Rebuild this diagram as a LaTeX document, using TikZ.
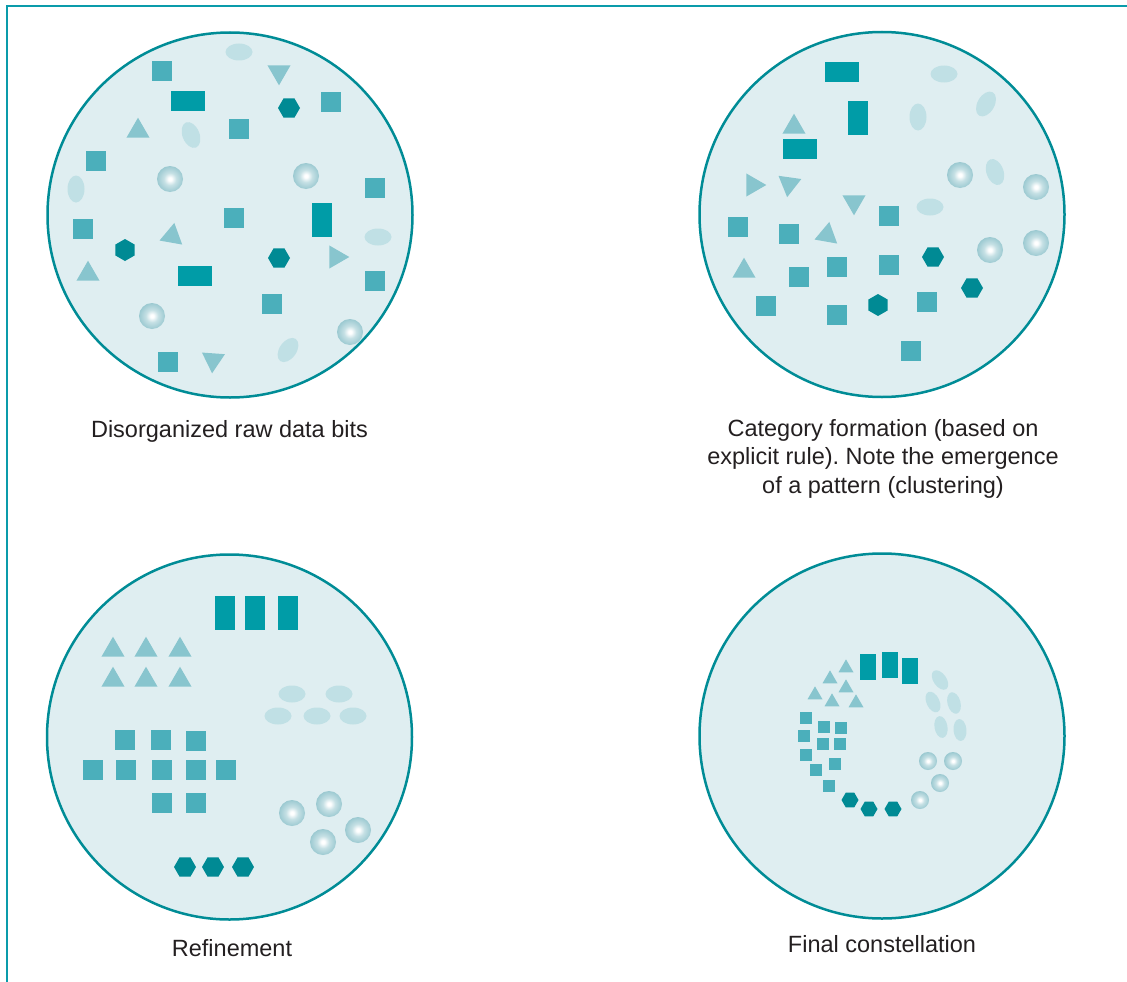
\documentclass[tikz,border=0pt]{standalone}
\usepackage{fontspec}
\setmainfont{Liberation Sans}
\usetikzlibrary{shapes.geometric}
\frenchspacing
\definecolor{ringc}{HTML}{008C96}
\definecolor{dishc}{HTML}{DFEEF1}
\definecolor{sqc}{HTML}{4BAFBB}
\definecolor{barc}{HTML}{009CA7}
\definecolor{hexc}{HTML}{008A94}
\definecolor{tric}{HTML}{88C5CE}
\definecolor{ovalc}{HTML}{C0E0E5}
\definecolor{beadc}{HTML}{7FBAC4}
\definecolor{framec}{HTML}{0A9BAA}
\definecolor{txtc}{HTML}{231F20}
\pgfdeclareradialshading{beadshade}{\pgfpoint{0bp}{0bp}}{color(0bp)=(white); color(3bp)=(white); color(12bp)=(beadc!45!white); color(26bp)=(beadc!80!white); color(36bp)=(beadc); color(50bp)=(beadc)}
\tikzset{
  dish/.style={circle, draw=ringc, fill=dishc, line width=2.5pt, minimum size=365pt, inner sep=0pt},
  datasq/.style={rectangle, fill=sqc, minimum size=20pt, inner sep=0pt},
  databar/.style={rectangle, fill=barc, minimum width=34pt, minimum height=20pt, inner sep=0pt},
  datahex/.style={regular polygon, regular polygon sides=6, fill=hexc, minimum size=22pt, inner sep=0pt},
  datatri/.style={regular polygon, regular polygon sides=3, fill=tric, minimum size=26.6pt, inner sep=0pt},
  dataoval/.style={ellipse, fill=ovalc, minimum width=27pt, minimum height=17pt, inner sep=0pt},
  databead/.style={circle, shading=beadshade, minimum size=26pt, inner sep=0pt},
  caption/.style={text=txtc, font=\fontsize{23.5}{28.5}\selectfont, align=center, anchor=base, inner sep=0pt}
}
\begin{document}
\begin{tikzpicture}[x=1pt,y=-1pt]
\useasboundingbox (0,0) rectangle (1127,982);
\draw[framec, line width=2pt] (6.5,982) -- (6.5,6.5) -- (1127,6.5);
\node[dish] (dishA) at (230,215) {};
\node[dish] (dishB) at (882,214.5) {};
\node[dish] (dishC) at (229.5,737) {};
\node[dish] (dishD) at (882,736) {};
% raw data bits
\foreach \x/\y [count=\i] in {162/71,331/102,239/129,96/161,375/188,234/218,83/229,375/281,272/304,168/362}
  \node[datasq] (a-sq\i) at (\x,\y) {};
\foreach \x/\y/\w/\h [count=\i] in {188/101/34/20,195/276/34/20,322/220/20/34}
  \node[databar, minimum width=\w pt, minimum height=\h pt] (a-bar\i) at (\x,\y) {};
\foreach \x/\y/\r [count=\i] in {289/108/0,125/250/90,279/258/0}
  \node[datahex, rotate=\r] (a-hex\i) at (\x,\y) {};
\foreach \x/\y/\r [count=\i] in {279/72/180,138/131/0,172/236/-10,88/274/0,336/257/-90,213/360/176}
  \node[datatri, rotate=\r] (a-tri\i) at (\x,\y) {};
\foreach \x/\y/\r [count=\i] in {239/52/0,191/135/112,76/189/90,378/237/0,288/350/55}
  \node[dataoval, rotate=\r] (a-oval\i) at (\x,\y) {};
\foreach \x/\y [count=\i] in {170/179,306/176,152/316,350/332}
  \node[databead] (a-bead\i) at (\x,\y) {};
% category formation
\foreach \x/\y [count=\i] in {738/227,789/234,889/216,799/277,837/267,889/265,766/306,837/315,927/302,911/351}
  \node[datasq] (b-sq\i) at (\x,\y) {};
\foreach \x/\y/\w/\h [count=\i] in {842/72/34/20,800/149/34/20,858/118/20/34}
  \node[databar, minimum width=\w pt, minimum height=\h pt] (b-bar\i) at (\x,\y) {};
\foreach \x/\y/\r [count=\i] in {933/257/0,878/305/90,972/288/0}
  \node[datahex, rotate=\r] (b-hex\i) at (\x,\y) {};
\foreach \x/\y/\r [count=\i] in {794/127/0,753/185/-90,789/184/172,854/202/180,827/235/-10,744/271/0}
  \node[datatri, rotate=\r] (b-tri\i) at (\x,\y) {};
\foreach \x/\y/\r [count=\i] in {944/74/0,986/104/60,918/117/90,995/172/110,930/207/0}
  \node[dataoval, rotate=\r] (b-oval\i) at (\x,\y) {};
\foreach \x/\y [count=\i] in {960/175,1036/187,990/250,1036/243}
  \node[databead] (b-bead\i) at (\x,\y) {};
% refinement
\foreach \x/\y [count=\i] in {125/740,161/740,196/741,93/770,126/770,162/770,196/770,226/770,162/803,196/803}
  \node[datasq] (c-sq\i) at (\x,\y) {};
\foreach \x [count=\i] in {225,255,288}
  \node[databar, minimum width=20pt, minimum height=34pt] (c-bar\i) at (\x,613) {};
\foreach \x [count=\i] in {185,213,243}
  \node[datahex] (c-hex\i) at (\x,867) {};
\foreach \x/\y [count=\i] in {113/650,146/650,180/650,113/680,146/680,180/680}
  \node[datatri] (c-tri\i) at (\x,\y) {};
\foreach \x/\y [count=\i] in {292/694,339/694,278/716,317/716,353/716}
  \node[dataoval] (c-oval\i) at (\x,\y) {};
\foreach \x/\y [count=\i] in {292/813,329/804,358/830,323/842}
  \node[databead] (c-bead\i) at (\x,\y) {};
% final constellation
\foreach \x/\y [count=\i] in {806/718,824/727,841/728,804/736,823/744,840/744,806/755,835/764,816/770,829/786}
  \node[datasq, minimum size=12pt] (d-sq\i) at (\x,\y) {};
\foreach \x/\y [count=\i] in {868/667,890/665,910/671}
  \node[databar, minimum width=16pt, minimum height=26pt] (d-bar\i) at (\x,\y) {};
\foreach \x/\y [count=\i] in {850/800,869/809,893/809}
  \node[datahex, minimum size=17pt] (d-hex\i) at (\x,\y) {};
\foreach \x/\y [count=\i] in {846/668,830/679,846/688,815/695,832/702,856/703}
  \node[datatri, minimum size=17.3pt] (d-tri\i) at (\x,\y) {};
\foreach \x/\y/\r [count=\i] in {940/680/35,933/702/25,954/703/15,941/727/10,960/730/5}
  \node[dataoval, minimum width=13pt, minimum height=22pt, rotate=\r] (d-oval\i) at (\x,\y) {};
\foreach \x/\y [count=\i] in {928/761,953/761,940/783,920/800}
  \node[databead, minimum size=18pt] (d-bead\i) at (\x,\y) {};
\node[caption] (capA) at (229.5,437) {Disorganized raw data bits};
\node[caption] (capB) at (883,493) {Category formation (based on\\explicit rule). Note the emergence\\of a pattern (clustering)};
\node[caption] (capC) at (232,956.5) {Refinement};
\node[caption] (capD) at (882,952) {Final constellation};
\end{tikzpicture}
\end{document}
